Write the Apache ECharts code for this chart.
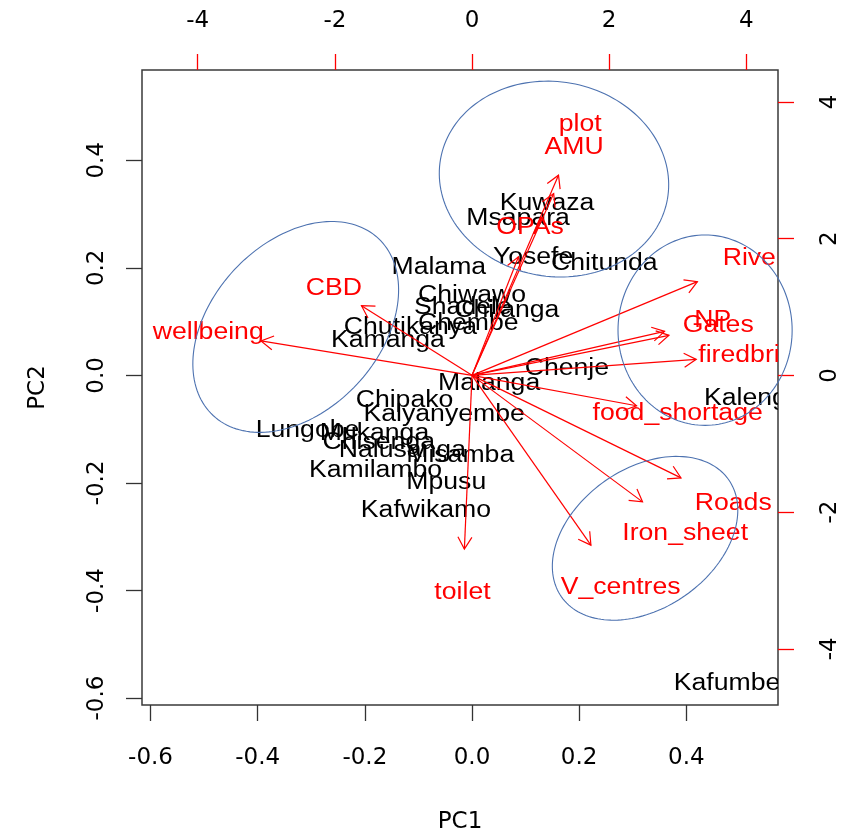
<!DOCTYPE html>
<html><head><meta charset="utf-8">
<script src="https://cdn.jsdelivr.net/npm/echarts@6/dist/echarts.min.js"></script>
<style>html,body{margin:0;padding:0;background:#fff}#c{width:843px;height:835px}</style>
</head><body><div id="c"></div>
<script>
// Observation scores (PC1, PC2) – label centres
const siteNames = ['Kuwaza','Msapara','Yosefe','Chitunda','Malama','Chiwawo','Shadele','Chilanga','Chembe','Chutikanya','Kamanga','Chenje','Malanga','Chipako','Kalyanyembe','Lungobe','Mukanga','Chisenga','Nalusanga','Misamba','Kamilambo','Mpusu','Kafwikamo','Kalengwe','Kafumbe'];
const siteX = [0.140,0.086,0.114,0.247,-0.062,0.000,-0.017,0.065,-0.007,-0.115,-0.157,0.177,0.032,-0.126,-0.052,-0.307,-0.182,-0.174,-0.130,-0.022,-0.180,-0.048,-0.086,0.542,0.476];
const siteY = [0.320,0.292,0.218,0.208,0.201,0.149,0.125,0.121,0.097,0.089,0.065,0.013,-0.015,-0.047,-0.074,-0.102,-0.108,-0.125,-0.140,-0.149,-0.177,-0.199,-0.251,-0.043,-0.573];
// Variable loadings (top / right axes) – label positions
const varNames = ['plot','AMU','OPAs','CBD','wellbeing','River','NP','Gates','firedbrick','food_shortage','Roads','Iron_sheet','V_centres','toilet'];
const varU = [1.577,1.489,0.847,-2.015,-3.847,4.109,3.511,3.591,4.088,3.000,3.810,3.109,2.168,-0.139];
const varV = [3.660,3.324,2.167,1.274,0.630,1.713,0.805,0.732,0.293,-0.556,-1.874,-2.313,-3.104,-3.177];
// Tick values
const pc1Ticks = [-0.6,-0.4,-0.2,0,0.2,0.4];
const pc2Ticks = [-0.6,-0.4,-0.2,0,0.2,0.4];
const loadTicksX = [-4,-2,0,2,4];
const loadTicksY = [-4,-2,0,2,4];
// Hand-drawn group ellipses (PC1/PC2 units): centre x, centre y, radius x, radius y, rotation deg
const ellCX = [0.153,-0.329,0.435,0.323];
const ellCY = [0.365,0.090,0.084,-0.303];
const ellRX = [0.215,0.226,0.1625,0.1905];
const ellRY = [0.181,0.156,0.177,0.130];
const ellRot = [-10,47,0,35];

const chart = echarts.init(document.getElementById('c'));
const RED = '#ff0000';
const axisFont = {fontSize:23, fontFamily:'DejaVu Sans', color:'#000'};

const option = {
  backgroundColor:'#fff',
  animation:false,
  grid:{left:142, right:65, top:70, bottom:130, show:true, outerBoundsMode:'none', containLabel:false,
        borderColor:'#3a3a3a', borderWidth:1.5, backgroundColor:'transparent'},
  xAxis:[
    {type:'value', position:'bottom', min:-0.6159, max:0.5711,
     axisLine:{show:false, onZero:false}, splitLine:{show:false},
     axisTick:{show:true, inside:false, length:16, customValues:pc1Ticks, lineStyle:{color:'#333', width:1.3}},
     axisLabel:Object.assign({customValues:pc1Ticks, margin:42, formatter:v=>Number(v).toFixed(1)}, axisFont),
     name:'PC1', nameLocation:'middle', nameGap:106, nameTextStyle:{fontSize:23, fontFamily:'DejaVu Sans', color:'#000'}},
    {type:'value', position:'top', min:-4.813, max:4.463,
     axisLine:{show:false, onZero:false}, splitLine:{show:false},
     axisTick:{show:true, inside:false, length:16, customValues:loadTicksX, lineStyle:{color:RED, width:1.3}},
     axisLabel:Object.assign({customValues:loadTicksX, margin:37, formatter:v=>String(Math.round(v))}, axisFont)}
  ],
  yAxis:[
    {type:'value', position:'left', min:-0.613, max:0.5678,
     axisLine:{show:false, onZero:false}, splitLine:{show:false},
     axisTick:{show:true, inside:false, length:16, customValues:pc2Ticks, lineStyle:{color:'#333', width:1.3}},
     axisLabel:Object.assign({customValues:pc2Ticks, margin:33, rotate:90, formatter:v=>Number(v).toFixed(1)}, axisFont),
     name:'PC2', nameLocation:'middle', nameGap:92, nameRotate:90, nameTextStyle:{fontSize:23, fontFamily:'DejaVu Sans', color:'#000'}},
    {type:'value', position:'right', min:-4.821, max:4.466,
     axisLine:{show:false, onZero:false}, splitLine:{show:false},
     axisTick:{show:true, inside:false, length:16, customValues:loadTicksY, lineStyle:{color:RED, width:1.3}},
     axisLabel:Object.assign({customValues:loadTicksY, margin:41, rotate:90, formatter:v=>String(Math.round(v))}, axisFont)}
  ],
  series:[
    {type:'custom', name:'sites', xAxisIndex:0, yAxisIndex:0, clip:true, silent:true, z:2,
     data: siteX.map((x,i)=>[x, siteY[i]]),
     renderItem:(params, api)=>{
       const p = api.coord([api.value(0), api.value(1)]);
       return {type:'text', x:p[0], y:p[1], scaleX:1.157,
         style:{x:0, y:0, text:siteNames[params.dataIndex], fill:'#000', fontSize:23, fontFamily:'Liberation Sans', align:'center', verticalAlign:'middle'}};
     }},
    {type:'custom', name:'arrows', xAxisIndex:1, yAxisIndex:1, clip:true, silent:true, z:3,
     data: varU.map((u,i)=>[u, varV[i]]),
     renderItem:(params, api)=>{
       const o = api.coord([0,0]);
       const t = api.coord([api.value(0)*0.8, api.value(1)*0.8]);
       const ang = Math.atan2(t[1]-o[1], t[0]-o[0]);
       const L = 14, a = Math.PI/6;
       const h1 = [t[0]-L*Math.cos(ang-a), t[1]-L*Math.sin(ang-a)];
       const h2 = [t[0]-L*Math.cos(ang+a), t[1]-L*Math.sin(ang+a)];
       return {type:'group', children:[
         {type:'line', shape:{x1:o[0], y1:o[1], x2:t[0], y2:t[1]}, style:{stroke:RED, lineWidth:1.2}},
         {type:'polyline', shape:{points:[h1, t, h2]}, style:{stroke:RED, fill:null, lineWidth:1.2}}
       ]};
     }},
    {type:'custom', name:'varLabels', xAxisIndex:1, yAxisIndex:1, clip:true, silent:true, z:4,
     data: varU.map((u,i)=>[u, varV[i]]),
     renderItem:(params, api)=>{
       const p = api.coord([api.value(0), api.value(1)]);
       return {type:'text', x:p[0], y:p[1], scaleX:1.157,
         style:{x:0, y:0, text:varNames[params.dataIndex], fill:RED, fontSize:23, fontFamily:'Liberation Sans', align:'center', verticalAlign:'middle'}};
     }},
    {type:'custom', name:'ellipses', xAxisIndex:0, yAxisIndex:0, clip:false, silent:true, z:5,
     data: ellCX.map((x,i)=>[x, ellCY[i], ellRX[i], ellRY[i], ellRot[i]]),
     renderItem:(params, api)=>{
       const c = api.coord([api.value(0), api.value(1)]);
       const rx = api.size([api.value(2), 0])[0];
       const ry = api.size([0, api.value(3)])[1];
       const rot = -api.value(4)*Math.PI/180;
       const pts = [];
       for (let k=0;k<=160;k++){
         const th = 2*Math.PI*k/160;
         const ex = rx*Math.cos(th), ey = ry*Math.sin(th);
         pts.push([c[0] + ex*Math.cos(rot) - ey*Math.sin(rot), c[1] + ex*Math.sin(rot) + ey*Math.cos(rot)]);
       }
       return {type:'polyline', shape:{points:pts}, style:{stroke:'#4d72b0', fill:null, lineWidth:1.1}};
     }}
  ]
};
chart.setOption(option);
</script>
</body></html>
